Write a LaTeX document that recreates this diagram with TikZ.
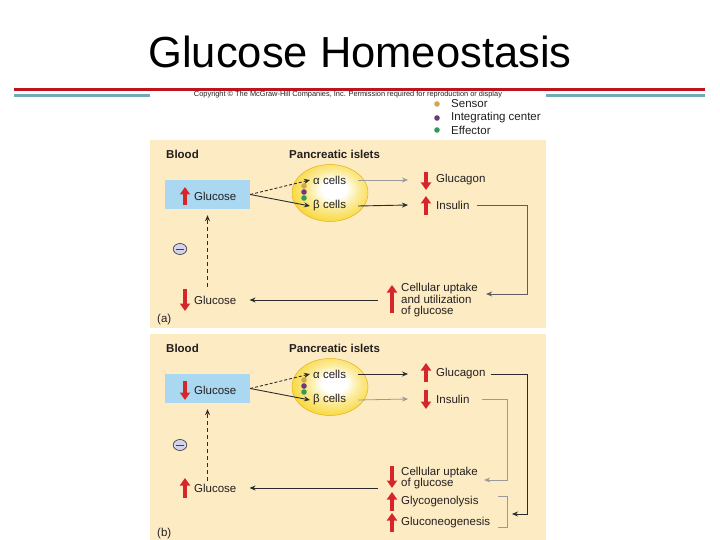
\documentclass[tikz,border=0pt]{standalone}
\usepackage{fontspec}
\setmainfont{Liberation Sans}
\usepackage{xcolor}
\usepackage{tikz}
\usetikzlibrary{arrows.meta,calc,positioning,shapes.geometric}
\definecolor{slidered}{HTML}{C0141C}
\definecolor{slideteal}{HTML}{74AAB8}
\definecolor{panelbeige}{HTML}{FDEBC3}
\definecolor{boxblue}{HTML}{AAD8F1}
\definecolor{markred}{HTML}{D6262C}
\definecolor{ink}{HTML}{231F20}
\definecolor{linedark}{HTML}{2B2B2B}
\definecolor{linemid}{HTML}{5E5E5E}
\definecolor{linegrey}{HTML}{9A9A9A}
\definecolor{sensorgold}{HTML}{D4A74A}
\definecolor{integpurple}{HTML}{6B3A78}
\definecolor{effectgreen}{HTML}{2E9B5C}
\definecolor{minusfill}{HTML}{D3D3EC}
\definecolor{isletyellow}{HTML}{F8D52C}
\definecolor{isletedge}{HTML}{E6B01C}
\pgfdeclareradialshading{islet}{\pgfpoint{3bp}{4bp}}{color(0bp)=(white); color(8bp)=(white);
  color(16bp)=(isletyellow!45!white); color(30bp)=(isletyellow); color(42bp)=(isletyellow);
  color(50bp)=(isletedge); color(75bp)=(isletedge)}

\begin{document}
\begin{tikzpicture}[
    x=1pt,y=-1pt,
    body/.style={font=\fontsize{11.5}{13}\selectfont,text=ink,inner sep=0pt},
    lbl/.style={body,anchor=west},
    heading/.style={lbl,font=\fontsize{11.5}{13}\selectfont\bfseries},
    stack/.style={lbl,align=left,font=\fontsize{11.5}{10.6}\selectfont},
    glucbox/.style={fill=boxblue,minimum width=85pt,minimum height=29pt,inner sep=0pt},
    isletbody/.style={ellipse,minimum width=76pt,minimum height=57pt,inner sep=0pt,
      shade,shading=islet,draw=isletedge,line width=0.5pt},
    negsign/.style={ellipse,draw=ink!85,fill=minusfill,line width=0.7pt,
      minimum width=13.5pt,minimum height=11pt,inner sep=0pt},
    active/.style={draw=linedark,line width=0.9pt,-{Stealth[length=6pt,width=5pt]}},
    idle/.style={active,draw=linegrey,line width=0.8pt},
    feedback/.style={active,dash pattern=on 4pt off 3pt},
    bracket/.style={draw=linegrey,line width=0.8pt},
    flag/.style={draw=markred,line width=3.4pt,-{Triangle[length=7.5pt,width=10pt]}}
  ]
  \useasboundingbox (0,0) rectangle (720,540);

  % slide title and rules
  \node[font=\fontsize{43.5}{50}\selectfont] (title) at (360,52) {Glucose Homeostasis};
  \fill[slidered] (14,88) rectangle (705,91);
  \fill[slideteal] (14,94) rectangle (705,97);
  \fill[white] (150,91) rectangle (546,540);
  \node[body,font=\fontsize{7.4}{8}\selectfont] (copyright) at (348,94.5)
    {Copyright \textcopyright{} The McGraw-Hill Companies, Inc. Permission required for reproduction or display};

  % legend
  \foreach \yy/\cc/\txt [count=\i] in {104/sensorgold/Sensor,
      118/integpurple/Integrating center,130/effectgreen/Effector} {
    \fill[\cc] (437,\yy) circle (2.8);
    \node[lbl] (key\i) at (451,\yy) {\txt};
  }

  % panel (a): high blood glucose
  \fill[panelbeige] (150,140) rectangle (546,328);
  \node[heading] (bloodA) at (166,154) {Blood};
  \node[heading] (pancA) at (289,154) {Pancreatic islets};
  \node[glucbox] (boxA) at (207.5,194.5) {};
  \node[lbl] (glucTopA) at (194,196) {Glucose};
  \node[isletbody] (isletA) at (330,193) {};
  \foreach \yy/\cc in {186/sensorgold,192/integpurple,198/effectgreen}
    \fill[\cc] (304,\yy) circle (2.8);
  \node[lbl] (alphaA) at (313,180) {α cells};
  \node[lbl] (betaA) at (313,206) {β cells};
  \node[lbl] (glucagonA) at (436,180) {Glucagon};
  \node[lbl] (insulinA) at (436,205) {Insulin};
  \node[stack] (cellA) at (401,300) {Cellular uptake\\and utilization\\of glucose};
  \node[lbl] (glucBotA) at (194,300) {Glucose};
  \node[negsign] (negA) at (180,249) {};
  \node[lbl] (tagA) at (157,320) {(a)};
  \coordinate (rimA) at (527,294);

  \draw[flag] (185,205) -- (185,187);
  \draw[flag] (426,172) -- (426,190);
  \draw[flag] (426,215) -- (426,196);
  \draw[flag] (392,313) -- (392,285);
  \draw[flag] (185,289) -- (185,311);

  \draw[active,dash pattern=on 3pt off 2pt] (boxA.east) -- ([xshift=-3pt]alphaA.west);
  \draw[active] (boxA.east) -- ([xshift=-3pt]betaA.west);
  \draw[idle] ([xshift=12pt]alphaA.east) -- ([xshift=-28pt]glucagonA.west);
  \draw[active] ([xshift=12pt]betaA.east) -- ([xshift=-28pt]insulinA.west);
  \draw[active,draw=linemid,line width=0.8pt] ([xshift=7pt]insulinA.east) -| (rimA)
    -- ([xshift=8pt]cellA.east |- rimA);
  \draw[active] ([xshift=-23pt]cellA.west |- glucBotA) -- ([xshift=13pt]glucBotA.east);
  \draw[feedback] ([yshift=9pt]boxA.south |- glucBotA.north) -- ([yshift=-6pt]boxA.south);
  \draw[ink!85,line width=0.9pt] ([xshift=3.5pt]negA.west) -- ([xshift=-3.5pt]negA.east);

  % panel (b): low blood glucose
  \begin{scope}[shift={(0,194)}]
    \fill[panelbeige] (150,140) rectangle (546,346);
    \node[heading] (bloodB) at (166,154) {Blood};
    \node[heading] (pancB) at (289,154) {Pancreatic islets};
    \node[glucbox] (boxB) at (207.5,194.5) {};
    \node[lbl] (glucTopB) at (194,196) {Glucose};
    \node[isletbody] (isletB) at (330,193) {};
    \foreach \yy/\cc in {186/sensorgold,192/integpurple,198/effectgreen}
      \fill[\cc] (304,\yy) circle (2.8);
    \node[lbl] (alphaB) at (313,180) {α cells};
    \node[lbl] (betaB) at (313,206) {β cells};
    \node[lbl] (glucagonB) at (436,180) {Glucagon};
    \node[lbl] (insulinB) at (436,205) {Insulin};
    \node[stack,font=\fontsize{11.5}{11}\selectfont] (cellB) at (401,284.5)
      {Cellular uptake\\of glucose};
    \node[lbl] (glycoB) at (401,308) {Glycogenolysis};
    \node[lbl] (neoB) at (401,329) {Gluconeogenesis};
    \node[lbl] (glucBotB) at (194,294) {Glucose};
    \node[negsign] (negB) at (180,251) {};
    \node[lbl] (tagB) at (157,340) {(b)};
    \coordinate (rimB) at (527,320);
    \coordinate (rimC) at (507,286);
    \coordinate (braceTop) at (498,302);
    \coordinate (braceBot) at (507,333);

    \draw[flag] (185,187) -- (185,206);
    \draw[flag] (426,188) -- (426,169);
    \draw[flag] (426,196) -- (426,215);
    \draw[flag] (392,272) -- (392,294);
    \draw[flag] (392,317) -- (392,298);
    \draw[flag] (392,338) -- (392,319);
    \draw[flag] (185,304) -- (185,284);

    \draw[active,dash pattern=on 3pt off 2pt] (boxB.east) -- ([xshift=-3pt]alphaB.west);
    \draw[active] (boxB.east) -- ([xshift=-3pt]betaB.west);
    \draw[active] ([xshift=12pt]alphaB.east) -- ([xshift=-28pt]glucagonB.west);
    \draw[idle] ([xshift=12pt]betaB.east) -- ([xshift=-28pt]insulinB.west);
    \draw[active] ([xshift=5pt]glucagonB.east) -| (rimB) -- ([xshift=5pt]braceBot |- rimB);
    \draw[idle] ([xshift=12pt]insulinB.east) -| (rimC) -- ([xshift=6pt]cellB.east |- rimC);
    \draw[bracket] (braceTop) -| (braceBot) -- (braceBot -| braceTop);
    \draw[active] ([xshift=-23pt]cellB.west |- glucBotB) -- ([xshift=13pt]glucBotB.east);
    \draw[feedback] ([yshift=3pt]boxB.south |- glucBotB.north) -- ([yshift=-6pt]boxB.south);
    \draw[ink!85,line width=0.9pt] ([xshift=3.5pt]negB.west) -- ([xshift=-3.5pt]negB.east);
  \end{scope}
\end{tikzpicture}
\end{document}
